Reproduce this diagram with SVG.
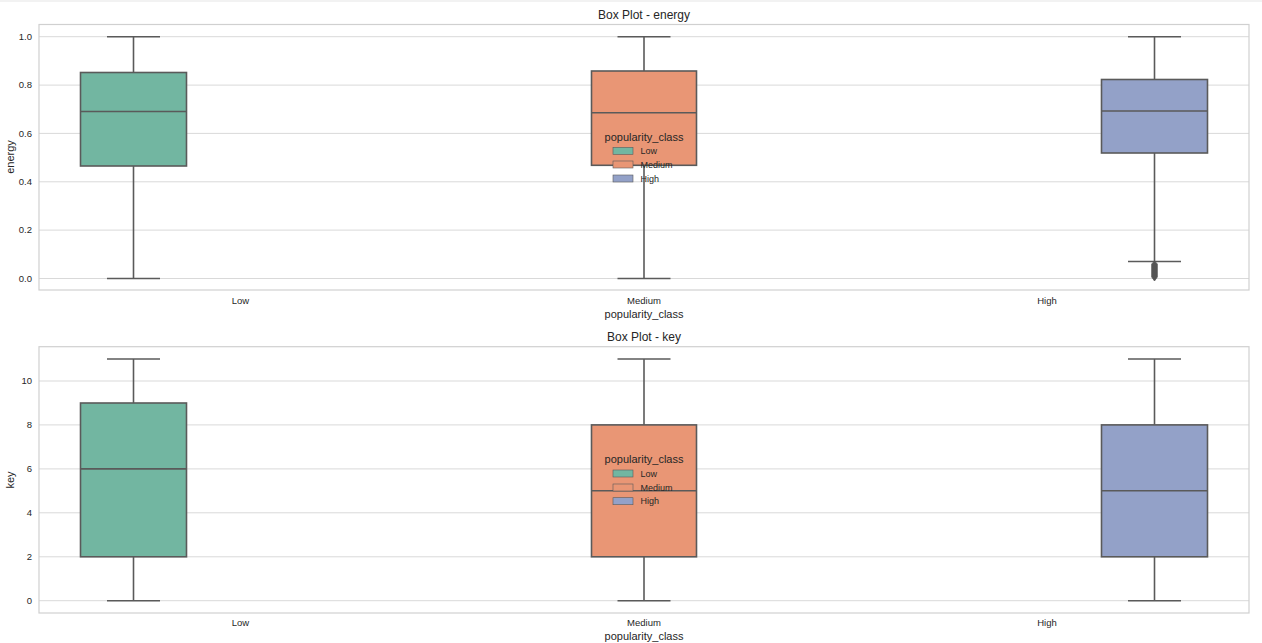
<svg xmlns="http://www.w3.org/2000/svg" width="1262" height="643" viewBox="0 0 1262 643">
<style>
text{font-family:"Liberation Sans",Arial,sans-serif;fill:#262626}
.tick{font-size:9.5px}
.ytick{font-size:9.5px;text-anchor:end}
.xtick{font-size:9.5px;text-anchor:middle}
.lab{font-size:11px;text-anchor:middle}
.title{font-size:12px;text-anchor:middle}
.grid{stroke:#d9d9d9;stroke-width:1}
.frame{fill:none;stroke:#d0d0d0;stroke-width:1.2}
.box{stroke:#5a5a5a;stroke-width:1.6}
.wh{stroke:#5a5a5a;stroke-width:1.6;fill:none}
.low{fill:#72b6a1}
.med{fill:#e99675}
.high{fill:#93a1c8}
.lg{stroke:#5a5a5a;stroke-width:0.6}
.legt{font-size:11px;text-anchor:middle}
.legl{font-size:9px}
</style>
<rect x="0" y="0" width="1262" height="643" fill="#ffffff"/>
<rect x="0" y="0" width="1262" height="2" fill="#f2f2f2"/>

<g id="panel-energy">
  <g id="energy-grid">
    <line class="grid" x1="39" y1="36.7" x2="1249" y2="36.7"/>
    <line class="grid" x1="39" y1="85.1" x2="1249" y2="85.1"/>
    <line class="grid" x1="39" y1="133.4" x2="1249" y2="133.4"/>
    <line class="grid" x1="39" y1="181.8" x2="1249" y2="181.8"/>
    <line class="grid" x1="39" y1="230.1" x2="1249" y2="230.1"/>
    <line class="grid" x1="39" y1="278.5" x2="1249" y2="278.5"/>
  </g>
  <rect class="frame" x="39" y="24.5" width="1210" height="265.5"/>
  <g id="energy-yticks">
    <text class="ytick" x="32" y="40">1.0</text>
    <text class="ytick" x="32" y="88.4">0.8</text>
    <text class="ytick" x="32" y="136.7">0.6</text>
    <text class="ytick" x="32" y="185.1">0.4</text>
    <text class="ytick" x="32" y="233.4">0.2</text>
    <text class="ytick" x="32" y="281.8">0.0</text>
  </g>
  <g id="energy-xticks">
    <text class="xtick" x="240.5" y="304">Low</text>
    <text class="xtick" x="644" y="304">Medium</text>
    <text class="xtick" x="1047" y="304">High</text>
  </g>
  <text class="lab" x="644" y="317.5">popularity_class</text>
  <text class="lab" transform="translate(13.5,157) rotate(-90)">energy</text>
  <text class="title" x="644" y="19">Box Plot - energy</text>

  <g id="energy-low">
    <line class="wh" x1="133.5" y1="36.7" x2="133.5" y2="72.5"/>
    <line class="wh" x1="133.5" y1="166" x2="133.5" y2="278.5"/>
    <line class="wh" x1="107" y1="36.7" x2="160" y2="36.7"/>
    <line class="wh" x1="107" y1="278.5" x2="160" y2="278.5"/>
    <rect class="box low" x="80.5" y="72.5" width="106" height="93.5"/>
    <line class="wh" x1="80.5" y1="111.5" x2="186.5" y2="111.5"/>
  </g>
  <g id="energy-medium">
    <line class="wh" x1="644" y1="36.7" x2="644" y2="71"/>
    <line class="wh" x1="644" y1="165.3" x2="644" y2="278.5"/>
    <line class="wh" x1="617.5" y1="36.7" x2="670.5" y2="36.7"/>
    <line class="wh" x1="617.5" y1="278.5" x2="670.5" y2="278.5"/>
    <rect class="box med" x="591.5" y="71" width="105" height="94.3"/>
    <line class="wh" x1="591.5" y1="112.7" x2="696.5" y2="112.7"/>
  </g>
  <g id="energy-high">
    <line class="wh" x1="1154.5" y1="36.7" x2="1154.5" y2="79.5"/>
    <line class="wh" x1="1154.5" y1="153" x2="1154.5" y2="261.5"/>
    <line class="wh" x1="1128" y1="36.7" x2="1181" y2="36.7"/>
    <line class="wh" x1="1128" y1="261.5" x2="1181" y2="261.5"/>
    <rect class="box high" x="1101.5" y="79.5" width="106" height="73.5"/>
    <line class="wh" x1="1101.5" y1="111" x2="1207.5" y2="111"/>
    <path fill="#555555" stroke="#555555" stroke-width="0.8" d="M1154.5 261 L1157.3 264 L1157.3 277 L1154.5 281 L1151.7 277 L1151.7 264 Z"/>
  </g>
  <g id="energy-legend">
    <text class="legt" x="644" y="140.5">popularity_class</text>
    <rect class="lg low" x="613" y="147.3" width="20" height="7"/>
    <text class="legl" x="640.5" y="154">Low</text>
    <rect class="lg med" x="613" y="161" width="20" height="7"/>
    <text class="legl" x="640.5" y="167.7">Medium</text>
    <rect class="lg high" x="613" y="175" width="20" height="7"/>
    <text class="legl" x="640.5" y="181.7">High</text>
  </g>
</g>

<g id="panel-key">
  <g id="key-grid">
    <line class="grid" x1="39" y1="381" x2="1249" y2="381"/>
    <line class="grid" x1="39" y1="424.9" x2="1249" y2="424.9"/>
    <line class="grid" x1="39" y1="468.9" x2="1249" y2="468.9"/>
    <line class="grid" x1="39" y1="512.8" x2="1249" y2="512.8"/>
    <line class="grid" x1="39" y1="556.8" x2="1249" y2="556.8"/>
    <line class="grid" x1="39" y1="600.7" x2="1249" y2="600.7"/>
  </g>
  <rect class="frame" x="39" y="346.7" width="1210" height="266.3"/>
  <g id="key-yticks">
    <text class="ytick" x="32" y="384.3">10</text>
    <text class="ytick" x="32" y="428.2">8</text>
    <text class="ytick" x="32" y="472.2">6</text>
    <text class="ytick" x="32" y="516.1">4</text>
    <text class="ytick" x="32" y="560.1">2</text>
    <text class="ytick" x="32" y="604">0</text>
  </g>
  <g id="key-xticks">
    <text class="xtick" x="240.5" y="626">Low</text>
    <text class="xtick" x="644" y="626">Medium</text>
    <text class="xtick" x="1047" y="626">High</text>
  </g>
  <text class="lab" x="644" y="639.5">popularity_class</text>
  <text class="lab" transform="translate(13.5,480) rotate(-90)">key</text>
  <text class="title" x="644" y="341">Box Plot - key</text>

  <g id="key-low">
    <line class="wh" x1="133.5" y1="359" x2="133.5" y2="403"/>
    <line class="wh" x1="133.5" y1="556.8" x2="133.5" y2="600.7"/>
    <line class="wh" x1="107" y1="359" x2="160" y2="359"/>
    <line class="wh" x1="107" y1="600.7" x2="160" y2="600.7"/>
    <rect class="box low" x="80.5" y="403" width="106" height="153.8"/>
    <line class="wh" x1="80.5" y1="468.9" x2="186.5" y2="468.9"/>
  </g>
  <g id="key-medium">
    <line class="wh" x1="644" y1="359" x2="644" y2="424.9"/>
    <line class="wh" x1="644" y1="556.8" x2="644" y2="600.7"/>
    <line class="wh" x1="617.5" y1="359" x2="670.5" y2="359"/>
    <line class="wh" x1="617.5" y1="600.7" x2="670.5" y2="600.7"/>
    <rect class="box med" x="591.5" y="424.9" width="105" height="131.9"/>
    <line class="wh" x1="591.5" y1="490.8" x2="696.5" y2="490.8"/>
  </g>
  <g id="key-high">
    <line class="wh" x1="1154.5" y1="359" x2="1154.5" y2="424.9"/>
    <line class="wh" x1="1154.5" y1="556.8" x2="1154.5" y2="600.7"/>
    <line class="wh" x1="1128" y1="359" x2="1181" y2="359"/>
    <line class="wh" x1="1128" y1="600.7" x2="1181" y2="600.7"/>
    <rect class="box high" x="1101.5" y="424.9" width="106" height="131.9"/>
    <line class="wh" x1="1101.5" y1="490.8" x2="1207.5" y2="490.8"/>
  </g>
  <g id="key-legend">
    <text class="legt" x="644" y="462.5">popularity_class</text>
    <rect class="lg low" x="613" y="470" width="20" height="7"/>
    <text class="legl" x="640.5" y="476.7">Low</text>
    <rect class="lg med" x="613" y="484" width="20" height="7"/>
    <text class="legl" x="640.5" y="490.7">Medium</text>
    <rect class="lg high" x="613" y="497.7" width="20" height="7"/>
    <text class="legl" x="640.5" y="504.4">High</text>
  </g>
</g>
</svg>
